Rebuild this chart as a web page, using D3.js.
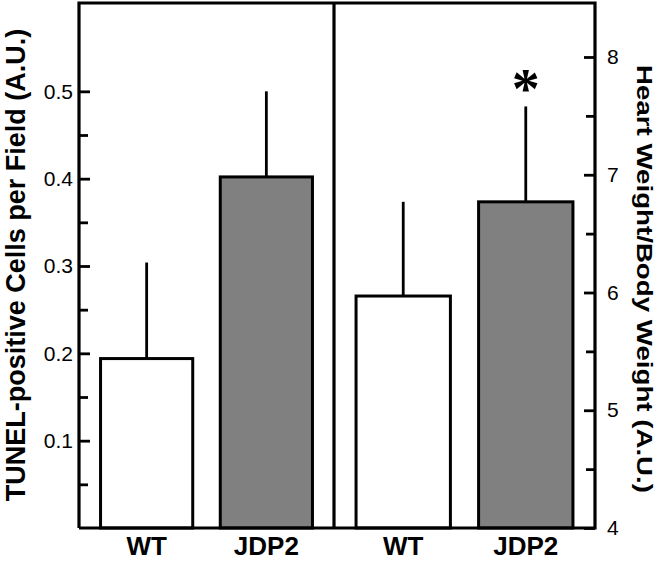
<!DOCTYPE html>
<html>
<head>
<meta charset="utf-8">
<script src="https://cdn.jsdelivr.net/npm/d3@7/dist/d3.min.js"></script>
<style>
  html, body { margin: 0; padding: 0; background: #fff; }
  svg { display: block; }
  text { font-family: 'Liberation Sans', Arial, sans-serif; fill: #000; }
</style>
</head>
<body>
<svg id="chart" width="666" height="561"></svg>
<script>
'use strict';

/* ── data ────────────────────────────────── */
const groups      = ['WT', 'JDP2'];
const tunelMeans  = [0.194, 0.402];
const tunelErr    = [0.110, 0.098];
const heartMeans  = [5.97, 6.77];
const heartErr    = [0.80, 0.81];
const heartSig    = [false, true];

const tunelTicks  = [0.1, 0.2, 0.3, 0.4, 0.5];
const tunelMinor  = [0.05, 0.15, 0.25, 0.35, 0.45];
const heartTicks  = [4, 5, 6, 7, 8];
const heartMinor  = [4.5, 5.5, 6.5, 7.5];

const fills = ['#ffffff', '#808080'];

/* ── layout ──────────────────────────────── */
const L = 79, M = 334, R = 595, T = 3, B = 528;

const svg = d3.select('#chart');

const yL = d3.scaleLinear().domain([0, 0.6]).range([B, T + 1]);
const yR = d3.scaleLinear().domain([4, 8.45]).range([B, T + 1]);

const xL = d3.scaleBand().domain(groups).range([L, M]).paddingInner(0.23).paddingOuter(0.18);
const xR = d3.scaleBand().domain(groups).range([M, R]).paddingInner(0.23).paddingOuter(0.18);

/* ── bars + error bars ───────────────────── */
function panel(x, y, means, errs) {
  const g = svg.append('g');
  const rows = groups.map((k, i) => ({ k, i, m: means[i], e: errs[i] }));
  g.selectAll('line.err').data(rows).join('line')
    .attr('class', 'err')
    .attr('x1', d => x(d.k) + x.bandwidth() / 2).attr('x2', d => x(d.k) + x.bandwidth() / 2)
    .attr('y1', d => y(d.m)).attr('y2', d => y(d.m + d.e))
    .attr('stroke', '#000').attr('stroke-width', 2.8);
  g.selectAll('rect').data(rows).join('rect')
    .attr('x', d => x(d.k)).attr('width', x.bandwidth())
    .attr('y', d => y(d.m)).attr('height', d => B - y(d.m))
    .attr('fill', d => fills[d.i])
    .attr('stroke', '#000').attr('stroke-width', 3);
  return rows;
}
panel(xL, yL, tunelMeans, tunelErr);
const hr = panel(xR, yR, heartMeans, heartErr);

// significance marker
svg.selectAll('text.sig').data(hr.filter(d => heartSig[d.i])).join('text')
  .attr('class', 'sig')
  .attr('x', d => xR(d.k) + xR.bandwidth() / 2)
  .attr('y', d => yR(d.m + d.e) + 2)
  .attr('text-anchor', 'middle')
  .style('font-family', "'Liberation Serif', 'Times New Roman', serif")
  .style('font-size', '56px').style('font-weight', 'bold')
  .text('*');

/* ── axes ────────────────────────────────── */
svg.append('g').attr('transform', `translate(${L},0)`)
  .call(d3.axisLeft(yL).tickValues(tunelTicks).tickFormat(d3.format('.1f'))
    .tickSizeInner(-11).tickSizeOuter(0).tickPadding(6));
svg.append('g').attr('transform', `translate(${L},0)`)
  .call(d3.axisLeft(yL).tickValues(tunelMinor).tickFormat('')
    .tickSizeInner(-9).tickSizeOuter(0));

svg.append('g').attr('transform', `translate(${R},0)`)
  .call(d3.axisRight(yR).tickValues(heartTicks).tickFormat(d3.format('d'))
    .tickSizeInner(-11).tickSizeOuter(0).tickPadding(12));
svg.append('g').attr('transform', `translate(${R},0)`)
  .call(d3.axisRight(yR).tickValues(heartMinor).tickFormat('')
    .tickSizeInner(-9).tickSizeOuter(0));

svg.selectAll('.domain').remove();
svg.selectAll('.tick line').attr('stroke', '#000').attr('stroke-width', 2.8);
svg.selectAll('.tick text')
  .style('font-family', "'Liberation Sans', Arial, sans-serif")
  .style('font-size', '21px').attr('fill', '#000');

/* ── frame ───────────────────────────────── */
const frame = svg.append('g').attr('stroke', '#000').attr('stroke-width', 3.2).attr('fill', 'none');
frame.append('path').attr('d', `M${L},${B}V${T}H${R}V${B}H${L}`).attr('stroke-linejoin', 'miter');
frame.append('line').attr('x1', M).attr('x2', M).attr('y1', T).attr('y2', B);

/* ── category labels ─────────────────────── */
[xL, xR].forEach(x => {
  svg.append('g').selectAll('text').data(groups).join('text')
    .attr('x', d => x(d) + x.bandwidth() / 2)
    .attr('y', 555)
    .attr('text-anchor', 'middle')
    .style('font-size', '26px').style('font-weight', 'bold')
    .text(d => d);
});

/* ── axis titles ─────────────────────────── */
svg.append('text')
  .attr('transform', 'translate(25,265) rotate(-90)')
  .attr('text-anchor', 'middle')
  .style('font-size', '27px').style('font-weight', 'bold')
  .text('TUNEL-positive Cells per Field (A.U.)');

svg.append('text')
  .attr('transform', 'translate(637,279) rotate(90)')
  .attr('text-anchor', 'middle')
  .attr('textLength', 428).attr('lengthAdjust', 'spacingAndGlyphs')
  .style('font-size', '22px').style('font-weight', 'bold')
  .text('Heart Weight/Body Weight (A.U.)');
</script>
</body>
</html>
